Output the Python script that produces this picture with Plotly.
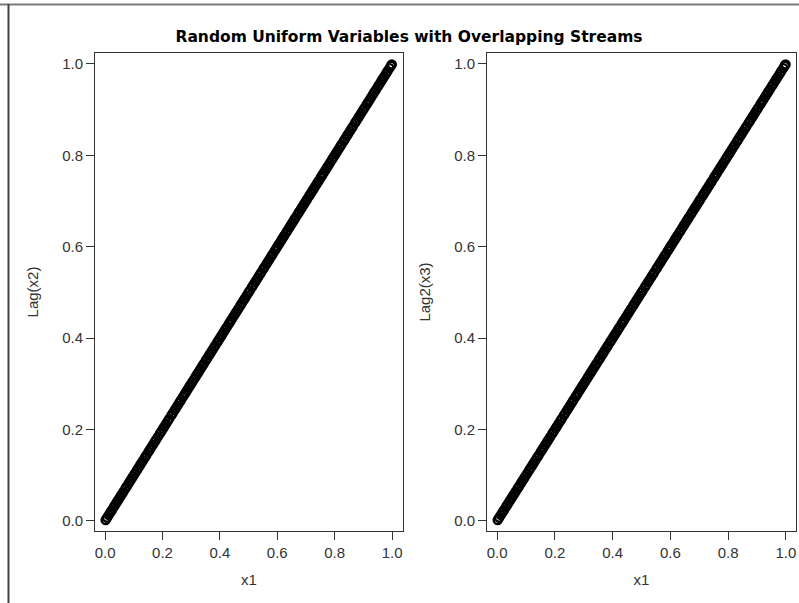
import plotly.graph_objects as go

# ---- data (overlapping streams give Lag(x2) = x1 and Lag2(x3) = x1) ----
x1 = [0.002, 0.007, 0.013, 0.019, 0.024, 0.031, 0.036, 0.042, 0.047, 0.053, 0.058, 0.064, 0.071, 0.076,
      0.082, 0.087, 0.093, 0.098, 0.104, 0.111, 0.116, 0.122, 0.127, 0.133, 0.139, 0.144, 0.151, 0.156,
      0.161, 0.167, 0.173, 0.178, 0.184, 0.191, 0.196, 0.202, 0.207, 0.213, 0.219, 0.224, 0.231, 0.236,
      0.242, 0.247, 0.253, 0.259, 0.264, 0.271, 0.276, 0.281, 0.287, 0.293, 0.298, 0.304, 0.311, 0.316,
      0.322, 0.327, 0.333, 0.339, 0.344, 0.351, 0.356, 0.362, 0.367, 0.373, 0.379, 0.384, 0.391, 0.396,
      0.402, 0.407, 0.413, 0.419, 0.424, 0.431, 0.436, 0.441, 0.447, 0.453, 0.458, 0.464, 0.471, 0.476,
      0.482, 0.487, 0.493, 0.499, 0.504, 0.511, 0.516, 0.522, 0.527, 0.533, 0.539, 0.544, 0.551, 0.556,
      0.562, 0.567, 0.573, 0.579, 0.584, 0.591, 0.596, 0.601, 0.607, 0.613, 0.618, 0.624, 0.631, 0.636,
      0.642, 0.647, 0.653, 0.659, 0.664, 0.671, 0.676, 0.682, 0.687, 0.693, 0.699, 0.704, 0.711, 0.716,
      0.722, 0.727, 0.733, 0.739, 0.744, 0.751, 0.756, 0.761, 0.767, 0.773, 0.778, 0.784, 0.791, 0.796,
      0.802, 0.807, 0.813, 0.819, 0.824, 0.831, 0.836, 0.842, 0.847, 0.853, 0.859, 0.864, 0.871, 0.876,
      0.882, 0.887, 0.893, 0.899, 0.904, 0.911, 0.916, 0.921, 0.927, 0.933, 0.938, 0.944, 0.951, 0.956,
      0.962, 0.967, 0.973, 0.979, 0.984, 0.991, 0.996, 0.999]

lag_x2 = [0.002, 0.007, 0.013, 0.019, 0.024, 0.031, 0.036, 0.042, 0.047, 0.053, 0.058, 0.064, 0.071, 0.076,
          0.082, 0.087, 0.093, 0.098, 0.104, 0.111, 0.116, 0.122, 0.127, 0.133, 0.139, 0.144, 0.151, 0.156,
          0.161, 0.167, 0.173, 0.178, 0.184, 0.191, 0.196, 0.202, 0.207, 0.213, 0.219, 0.224, 0.231, 0.236,
          0.242, 0.247, 0.253, 0.259, 0.264, 0.271, 0.276, 0.281, 0.287, 0.293, 0.298, 0.304, 0.311, 0.316,
          0.322, 0.327, 0.333, 0.339, 0.344, 0.351, 0.356, 0.362, 0.367, 0.373, 0.379, 0.384, 0.391, 0.396,
          0.402, 0.407, 0.413, 0.419, 0.424, 0.431, 0.436, 0.441, 0.447, 0.453, 0.458, 0.464, 0.471, 0.476,
          0.482, 0.487, 0.493, 0.499, 0.504, 0.511, 0.516, 0.522, 0.527, 0.533, 0.539, 0.544, 0.551, 0.556,
          0.562, 0.567, 0.573, 0.579, 0.584, 0.591, 0.596, 0.601, 0.607, 0.613, 0.618, 0.624, 0.631, 0.636,
          0.642, 0.647, 0.653, 0.659, 0.664, 0.671, 0.676, 0.682, 0.687, 0.693, 0.699, 0.704, 0.711, 0.716,
          0.722, 0.727, 0.733, 0.739, 0.744, 0.751, 0.756, 0.761, 0.767, 0.773, 0.778, 0.784, 0.791, 0.796,
          0.802, 0.807, 0.813, 0.819, 0.824, 0.831, 0.836, 0.842, 0.847, 0.853, 0.859, 0.864, 0.871, 0.876,
          0.882, 0.887, 0.893, 0.899, 0.904, 0.911, 0.916, 0.921, 0.927, 0.933, 0.938, 0.944, 0.951, 0.956,
          0.962, 0.967, 0.973, 0.979, 0.984, 0.991, 0.996, 0.999]

lag2_x3 = [0.002, 0.007, 0.013, 0.019, 0.024, 0.031, 0.036, 0.042, 0.047, 0.053, 0.058, 0.064, 0.071, 0.076,
           0.082, 0.087, 0.093, 0.098, 0.104, 0.111, 0.116, 0.122, 0.127, 0.133, 0.139, 0.144, 0.151, 0.156,
           0.161, 0.167, 0.173, 0.178, 0.184, 0.191, 0.196, 0.202, 0.207, 0.213, 0.219, 0.224, 0.231, 0.236,
           0.242, 0.247, 0.253, 0.259, 0.264, 0.271, 0.276, 0.281, 0.287, 0.293, 0.298, 0.304, 0.311, 0.316,
           0.322, 0.327, 0.333, 0.339, 0.344, 0.351, 0.356, 0.362, 0.367, 0.373, 0.379, 0.384, 0.391, 0.396,
           0.402, 0.407, 0.413, 0.419, 0.424, 0.431, 0.436, 0.441, 0.447, 0.453, 0.458, 0.464, 0.471, 0.476,
           0.482, 0.487, 0.493, 0.499, 0.504, 0.511, 0.516, 0.522, 0.527, 0.533, 0.539, 0.544, 0.551, 0.556,
           0.562, 0.567, 0.573, 0.579, 0.584, 0.591, 0.596, 0.601, 0.607, 0.613, 0.618, 0.624, 0.631, 0.636,
           0.642, 0.647, 0.653, 0.659, 0.664, 0.671, 0.676, 0.682, 0.687, 0.693, 0.699, 0.704, 0.711, 0.716,
           0.722, 0.727, 0.733, 0.739, 0.744, 0.751, 0.756, 0.761, 0.767, 0.773, 0.778, 0.784, 0.791, 0.796,
           0.802, 0.807, 0.813, 0.819, 0.824, 0.831, 0.836, 0.842, 0.847, 0.853, 0.859, 0.864, 0.871, 0.876,
           0.882, 0.887, 0.893, 0.899, 0.904, 0.911, 0.916, 0.921, 0.927, 0.933, 0.938, 0.944, 0.951, 0.956,
           0.962, 0.967, 0.973, 0.979, 0.984, 0.991, 0.996, 0.999]

tick_vals = [0.0, 0.2, 0.4, 0.6, 0.8, 1.0]
tick_text = ["0.0", "0.2", "0.4", "0.6", "0.8", "1.0"]

title_text = "Random Uniform Variables with Overlapping Streams"
x_title = "x1"
y_title_left = "Lag(x2)"
y_title_right = "Lag2(x3)"

# ---- figure ----
W, H = 799, 603
marker = dict(symbol="circle-open", size=8, color="black", line=dict(color="black", width=2.4))

fig = go.Figure()
fig.add_trace(go.Scatter(x=x1, y=lag_x2, mode="markers", marker=marker,
                         xaxis="x", yaxis="y", showlegend=False, hoverinfo="x+y"))
fig.add_trace(go.Scatter(x=x1, y=lag2_x3, mode="markers", marker=marker,
                         xaxis="x2", yaxis="y2", showlegend=False, hoverinfo="x+y"))

tick_font = dict(family="Liberation Sans, Arial, sans-serif", size=15, color="#333333")
title_font = dict(family="Liberation Sans, Arial, sans-serif", size=15, color="#333333")

def ax(domain, anchor, title, standoff, rng):
    return dict(
        domain=domain, anchor=anchor, range=rng,
        tickmode="array", tickvals=tick_vals, ticktext=tick_text,
        ticks="outside", ticklen=8, tickwidth=1, tickcolor="#333333",
        showline=True, linecolor="#333333", linewidth=1, mirror=True,
        showgrid=False, zeroline=False, tickfont=tick_font,
        title=dict(text=title, font=title_font, standoff=standoff),
        fixedrange=True,
    )

ydom = [1 - 531 / H, 1 - 53 / H]
fig.update_layout(
    width=W, height=H,
    margin=dict(l=0, r=0, t=0, b=0),
    paper_bgcolor="white", plot_bgcolor="white",
    xaxis=ax([95 / W, 403 / W], "y", x_title, 14, [-0.035, 1.038]),
    yaxis=ax(ydom, "x", y_title_left, 19, [-0.022, 1.024]),
    xaxis2=ax([487 / W, 796 / W], "y2", x_title, 14, [-0.035, 1.035]),
    yaxis2=ax(ydom, "x2", y_title_right, 19, [-0.022, 1.024]),
    title=dict(text="<b>" + title_text + "</b>", x=409 / W, xanchor="center",
               y=1 - 37 / H, yanchor="middle",
               font=dict(family="DejaVu Sans, Verdana, sans-serif", size=15.5, color="black")),
    shapes=[
        dict(type="line", xref="paper", yref="paper", x0=0, x1=1, y0=1 - 4.5 / H, y1=1 - 4.5 / H,
             line=dict(color="#7a7a7a", width=2)),
        dict(type="line", xref="paper", yref="paper", x0=8.5 / W, x1=8.5 / W, y0=0, y1=1 - 4 / H,
             line=dict(color="#444444", width=2)),
    ],
)

fig.write_html("out.html")
